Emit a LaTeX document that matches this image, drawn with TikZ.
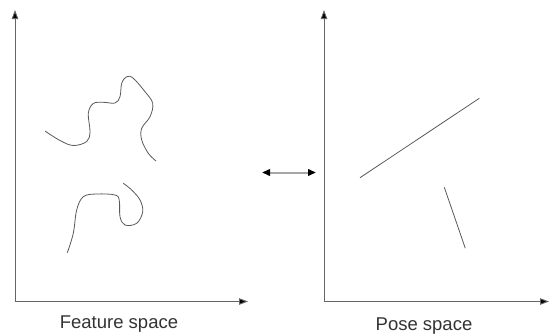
\documentclass[tikz,border=0pt]{standalone}
\usepackage{fontspec}
\setmainfont{Liberation Sans}
\usetikzlibrary{arrows.meta}
\begin{document}
\begin{tikzpicture}[x=1pt,y=-1pt,
  axis/.style={draw=black!60, line width=0.9pt, -{Triangle[length=9pt,width=6.5pt,fill=black]}},
  curve/.style={draw=black!65, line width=0.8pt, smooth, tension=0.6},
  seg/.style={draw=black!65, line width=0.8pt},
  swap/.style={draw=black!35, line width=2pt, {Triangle[length=8pt,width=6.5pt,fill=black,color=black]}-{Triangle[length=8pt,width=6.5pt,fill=black,color=black]}},
  caption/.style={font=\fontsize{18.5}{22}\selectfont, text=black!80, anchor=base, inner sep=0pt}]
\useasboundingbox (0,0) rectangle (549,335);

% feature space axes
\coordinate (fo) at (15,301.5);
\coordinate (fy) at (15,10);
\coordinate (fx) at (248,301.5);
\draw[axis] (fo) -- (fy);
\draw[axis] (fo) -- (fx);
\node[caption] (flabel) at (119,328.5) {Feature space};

% pose space axes
\coordinate (po) at (324,301.5);
\coordinate (py) at (324,10);
\coordinate (px) at (549,301.5);
\draw[axis] (po) -- (py);
\draw[axis] (po) -- (px);
\node[caption] (plabel) at (424,330.5) {Pose space};

% mapping between the two spaces
\coordinate (ml) at (262,172.5);
\coordinate (mr) at (316,172.5);
\draw[swap] (ml) -- (mr);

% feature-space manifolds
\draw[curve] plot coordinates {(45,131) (60,140.5) (73.3,145.5) (86.7,141.5) (90,131.7)
  (88.3,113.3) (93.3,103.5) (103.3,102.3) (115,103) (120,96.7) (121.7,83.3) (126.7,76.7)
  (133.3,78.3) (145,91.7) (152.7,103.3) (150,116.7) (141.7,128.3) (141.7,140) (148.3,153.3) (156,161)};
\draw[curve] plot coordinates {(67.3,252.7) (73.3,233.3) (76.7,210) (83.3,196.7) (96.7,194)
  (115,195) (119.3,200.5) (120,216.7) (125,225) (136.7,223.3) (142.7,211.7) (140,200)
  (131.7,190) (123.3,183.3)};

% pose-space segments
\coordinate (a1) at (360,177.7);
\coordinate (a2) at (479.3,98.3);
\coordinate (b1) at (444.3,187.3);
\coordinate (b2) at (465.3,248.3);
\draw[seg] (a1) -- (a2);
\draw[seg] (b1) -- (b2);
\end{tikzpicture}
\end{document}
